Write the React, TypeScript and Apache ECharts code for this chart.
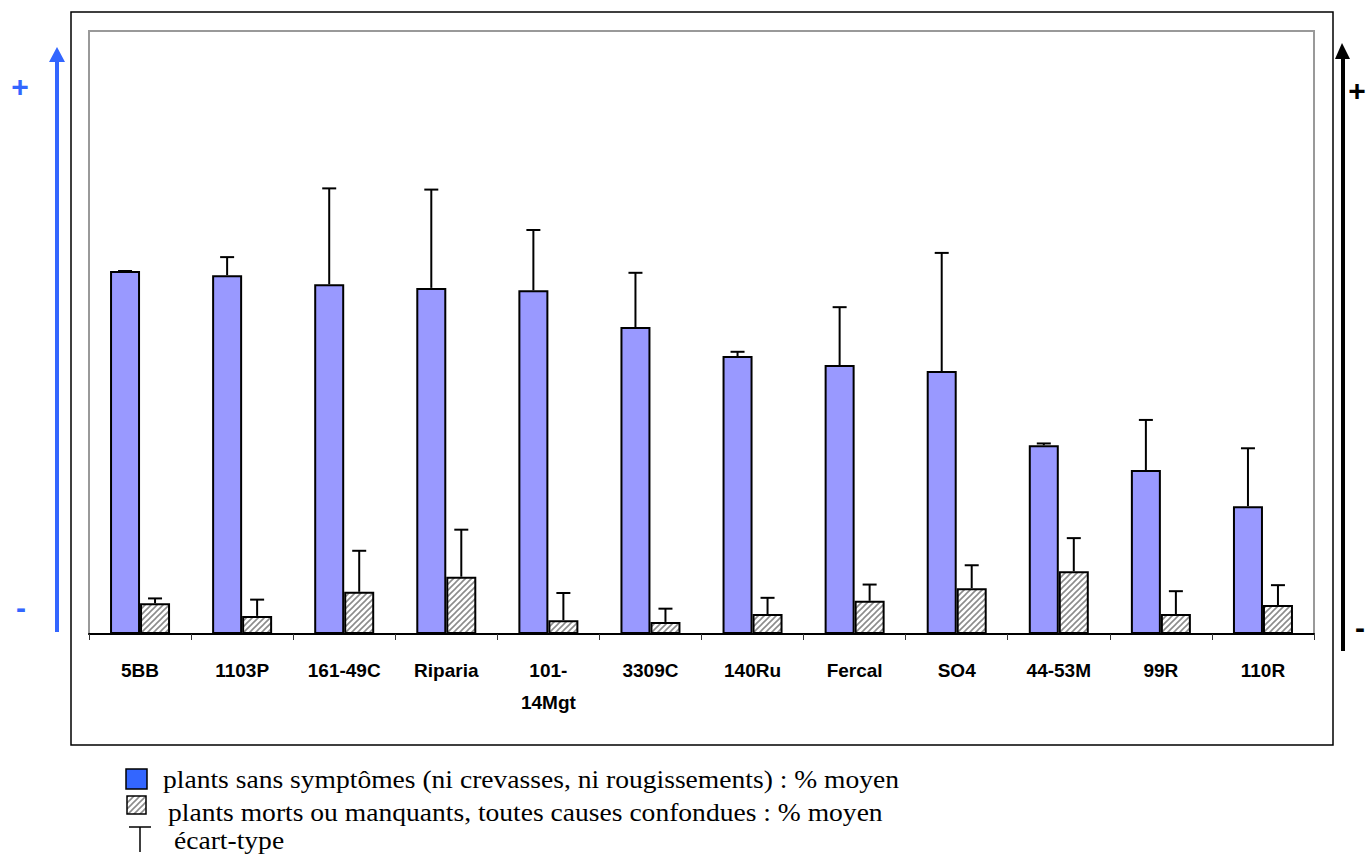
import React, { useEffect, useRef } from "react";
import * as echarts from "echarts";

const categories = ["5BB", "1103P", "161-49C", "Riparia", "101-\n14Mgt", "3309C", "140Ru", "Fercal", "SO4", "44-53M", "99R", "110R"];
const healthyMean = [60.2, 59.5, 58.0, 57.4, 57.0, 50.9, 46.1, 44.6, 43.6, 31.3, 27.2, 21.2];
const healthySd = [0, 3.0, 15.9, 16.3, 10.0, 9.0, 0.7, 9.6, 19.6, 0.3, 8.3, 9.6];
const deadMean = [5.1, 3.0, 7.0, 9.5, 2.3, 2.0, 3.3, 5.5, 7.6, 10.4, 3.3, 4.8];
const deadSd = [0.8, 2.7, 6.8, 7.8, 4.5, 2.2, 2.7, 2.7, 3.8, 5.5, 3.8, 3.3];
const legendLabels = [
  "plants sans symptômes (ni crevasses, ni rougissements) : % moyen",
  "plants morts ou manquants, toutes causes confondues : % moyen",
  "écart-type",
];

function makeHatch(): HTMLCanvasElement {
  const c = document.createElement("canvas");
  const s = 6;
  c.width = s;
  c.height = s;
  const ctx = c.getContext("2d")!;
  ctx.fillStyle = "#ffffff";
  ctx.fillRect(0, 0, s, s);
  ctx.strokeStyle = "#8c8c8c";
  ctx.lineWidth = 1.6;
  ctx.beginPath();
  ctx.moveTo(-1, s + 1);
  ctx.lineTo(s + 1, -1);
  ctx.moveTo(-1, 1);
  ctx.lineTo(1, -1);
  ctx.moveTo(s - 1, s + 1);
  ctx.lineTo(s + 1, s - 1);
  ctx.stroke();
  return c;
}

export default function App() {
  const ref = useRef<HTMLDivElement>(null);
  useEffect(() => {
    if (!ref.current) return;
    const chart = echarts.init(ref.current, undefined, { renderer: "svg" });
    const hatch = makeHatch();
    const errRender = (offset: number) => (params: any, api: any) => {
      const base = api.coord([api.value(0), api.value(1)]);
      const top = api.coord([api.value(0), api.value(1) + api.value(2)]);
      const x = base[0] + offset;
      return {
        type: "group",
        children: [
          { type: "line", shape: { x1: x, y1: base[1], x2: x, y2: top[1] }, style: { stroke: "#000", lineWidth: 2 } },
          { type: "line", shape: { x1: x - 7, y1: top[1], x2: x + 7, y2: top[1] }, style: { stroke: "#000", lineWidth: 2 } },
        ],
      };
    };
    const serif = "Liberation Serif";
    const sans = "Liberation Sans";
    const legendText = (text: string, x: number, y: number) => ({
      type: "text",
      x,
      y,
      scaleX: 1.06,
      style: { text, x: 0, y: 0, fill: "#000", fontFamily: serif, fontSize: 26, verticalAlign: "middle" },
    });
    const signText = (text: string, x: number, y: number, fill: string) => ({
      type: "text",
      style: { text, x, y, fill, fontFamily: sans, fontWeight: "bold", fontSize: 30, align: "center", verticalAlign: "middle" },
    });
    chart.setOption({
      animation: false,
      backgroundColor: "#fff",
      grid: { left: 89, right: 54, top: 31, bottom: 222, show: true, borderColor: "#999", borderWidth: 2, backgroundColor: "transparent" },
      xAxis: {
        type: "category",
        data: categories,
        axisLine: { lineStyle: { color: "#000", width: 2 } },
        axisTick: { show: true, length: 6, lineStyle: { color: "#333", width: 1 } },
        axisLabel: { color: "#000", fontWeight: "bold", fontSize: 19, fontFamily: sans, margin: 30, lineHeight: 32, verticalAlign: "top", padding: [-10, 0, 0, 0] },
      },
      yAxis: { type: "value", min: 0, max: 100, show: false, splitLine: { show: false } },
      series: [
        {
          type: "bar",
          data: healthyMean,
          barWidth: 30,
          barGap: "0%",
          itemStyle: { color: "#9999ff", borderColor: "#000", borderWidth: 2 },
        },
        {
          type: "bar",
          data: deadMean,
          barWidth: 30,
          barGap: "0%",
          itemStyle: { color: { image: hatch, repeat: "repeat" }, borderColor: "#000", borderWidth: 2 },
        },
        {
          type: "custom",
          data: healthyMean.map((v, i) => [i, v, healthySd[i]]),
          renderItem: errRender(-15),
          z: 5,
        },
        {
          type: "custom",
          data: deadMean.map((v, i) => [i, v, deadSd[i]]),
          renderItem: errRender(15),
          z: 5,
        },
      ],
      graphic: [
        { type: "rect", shape: { x: 71, y: 12, width: 1262, height: 733 }, style: { fill: "none", stroke: "#000", lineWidth: 1.5 }, silent: true },
        { type: "line", shape: { x1: 57, y1: 62, x2: 57, y2: 632 }, style: { stroke: "#3366ff", lineWidth: 4 } },
        { type: "polygon", shape: { points: [[49, 62], [57, 47], [65, 62]] }, style: { fill: "#3366ff" } },
        { type: "line", shape: { x1: 1343, y1: 58, x2: 1343, y2: 651 }, style: { stroke: "#000", lineWidth: 4 } },
        { type: "polygon", shape: { points: [[1335, 59], [1342, 43], [1350, 59]] }, style: { fill: "#000" } },
        signText("+", 20, 86, "#3366ff"),
        signText("-", 21, 607, "#3366ff"),
        signText("+", 1357, 90, "#000"),
        signText("-", 1360, 627, "#000"),
        { type: "rect", shape: { x: 126, y: 769, width: 21, height: 20 }, style: { fill: "#3366ff", stroke: "#000", lineWidth: 1.5 } },
        { type: "rect", shape: { x: 127, y: 796, width: 19, height: 18 }, style: { fill: { image: hatch, repeat: "repeat" } as any, stroke: "#000", lineWidth: 1.5 } },
        { type: "line", shape: { x1: 129, y1: 827, x2: 151, y2: 827 }, style: { stroke: "#000", lineWidth: 1.5 } },
        { type: "line", shape: { x1: 140, y1: 827, x2: 140, y2: 852 }, style: { stroke: "#000", lineWidth: 1.5 } },
        legendText(legendLabels[0], 163, 779),
        legendText(legendLabels[1], 168, 812),
        legendText(legendLabels[2], 174, 840),
      ],
    });
    return () => chart.dispose();
  }, []);
  return <div ref={ref} style={{ position: "absolute", left: 0, top: 0, width: 1368, height: 856 }} />;
}
